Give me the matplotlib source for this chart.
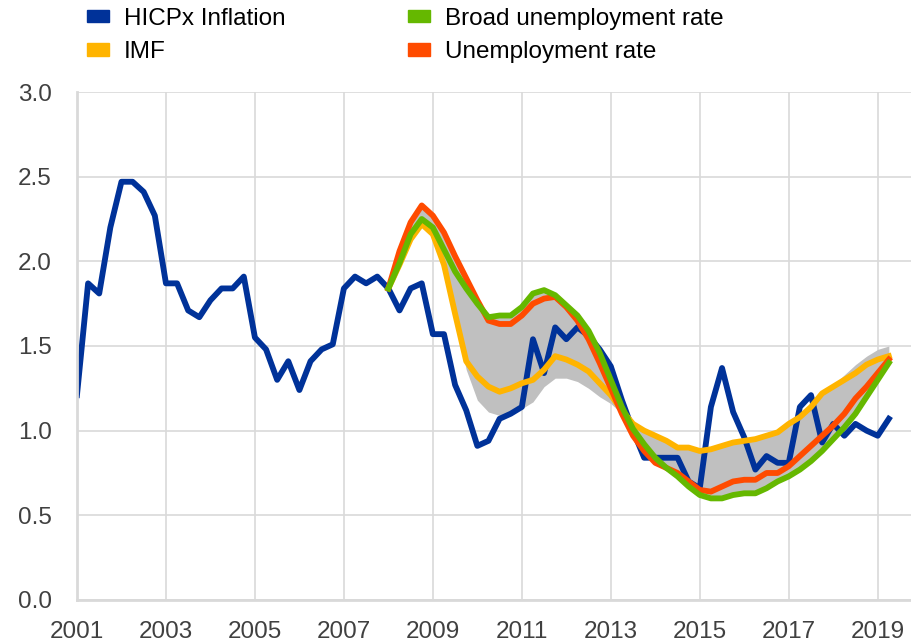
import numpy as np
import matplotlib
matplotlib.use("Agg")
import matplotlib.pyplot as plt
from matplotlib.patches import Patch

plt.rcParams['font.family'] = ['Liberation Sans', 'DejaVu Sans']

# quarterly, HICPx from 2001Q1, model estimates from 2008Q1
hicpx = [1.21, 1.87, 1.81, 2.20,
         2.47, 2.47, 2.41, 2.27,
         1.87, 1.87, 1.71, 1.67,
         1.77, 1.84, 1.84, 1.91,
         1.55, 1.48, 1.30, 1.41,
         1.24, 1.41, 1.48, 1.51,
         1.84, 1.91, 1.87, 1.91,
         1.84, 1.71, 1.84, 1.87,
         1.57, 1.57, 1.27, 1.12,
         0.91, 0.94, 1.07, 1.10,
         1.14, 1.54, 1.34, 1.61,
         1.54, 1.61, 1.56, 1.48,
         1.38, 1.18, 1.00, 0.84,
         0.84, 0.84, 0.84, 0.70,
         0.66, 1.14, 1.37, 1.11,
         0.96, 0.77, 0.85, 0.81,
         0.81, 1.14, 1.21, 0.93,
         1.04, 0.97, 1.04, 1.00,
         0.97, 1.07]

imf = [1.84, 1.98, 2.13, 2.22,
       2.16, 1.98, 1.69, 1.41,
       1.32, 1.26, 1.23, 1.25,
       1.28, 1.30, 1.36, 1.44,
       1.42, 1.39, 1.35, 1.28,
       1.21, 1.12, 1.04, 1.00,
       0.97, 0.94, 0.90, 0.90,
       0.88, 0.89, 0.91, 0.93,
       0.94, 0.95, 0.97, 0.99,
       1.04, 1.08, 1.14, 1.22,
       1.26, 1.30, 1.34, 1.39,
       1.42, 1.44]

unemp = [1.84, 2.06, 2.23, 2.33,
         2.27, 2.17, 2.03, 1.90,
         1.77, 1.65, 1.63, 1.63,
         1.68, 1.75, 1.78, 1.79,
         1.73, 1.65, 1.54, 1.40,
         1.25, 1.10, 0.97, 0.88,
         0.81, 0.78, 0.75, 0.70,
         0.65, 0.64, 0.67, 0.70,
         0.71, 0.71, 0.75, 0.75,
         0.79, 0.85, 0.91, 0.97,
         1.03, 1.10, 1.19, 1.26,
         1.34, 1.42]

broad = [1.84, 1.99, 2.16, 2.25,
         2.20, 2.07, 1.94, 1.84,
         1.75, 1.67, 1.68, 1.68,
         1.73, 1.81, 1.83, 1.80,
         1.74, 1.68, 1.59, 1.46,
         1.30, 1.14, 1.01, 0.92,
         0.84, 0.78, 0.73, 0.67,
         0.62, 0.60, 0.60, 0.62,
         0.63, 0.63, 0.66, 0.70,
         0.73, 0.77, 0.82, 0.88,
         0.95, 1.02, 1.10, 1.20,
         1.30, 1.40]

# range of estimates (grey area)
band_hi = [1.84, 2.07, 2.24, 2.34,
           2.28, 2.17, 2.03, 1.90,
           1.77, 1.67, 1.68, 1.68,
           1.73, 1.81, 1.83, 1.80,
           1.74, 1.68, 1.59, 1.46,
           1.30, 1.14, 1.04, 1.00,
           0.97, 0.94, 0.90, 0.90,
           0.88, 0.89, 0.91, 0.93,
           0.94, 0.95, 0.97, 0.99,
           1.04, 1.08, 1.14, 1.22,
           1.27, 1.33, 1.39, 1.44,
           1.48, 1.50]
band_lo = [1.84, 1.98, 2.13, 2.22,
           2.16, 1.98, 1.66, 1.36,
           1.18, 1.11, 1.09, 1.10,
           1.13, 1.17, 1.26, 1.31,
           1.31, 1.29, 1.25, 1.20,
           1.16, 1.10, 0.97, 0.88,
           0.81, 0.78, 0.73, 0.67,
           0.62, 0.60, 0.60, 0.62,
           0.63, 0.63, 0.66, 0.70,
           0.73, 0.77, 0.82, 0.88,
           0.95, 1.02, 1.10, 1.20,
           1.30, 1.40]

year_ticks = [2001, 2003, 2005, 2007, 2009, 2011, 2013, 2015, 2017, 2019]

t_all = 2001 + np.arange(len(hicpx)) * 0.25
t_mod = 2008 + np.arange(len(imf)) * 0.25

c_blue = "#003299"
c_yellow = "#FFB400"
c_green = "#65B800"
c_orange = "#FF4B00"
c_grid = "#D9D9D9"
c_text = "#404040"
fs = 17.5
lw = 4.2

fig = plt.figure(figsize=(9.12, 6.43), dpi=100)
ax = fig.add_axes([0.0844, 0.0669, 0.9146, 0.79])

ax.fill_between(t_mod, band_lo, band_hi, color="#C0C0C0", lw=0, zorder=1)
ax.plot(t_all, hicpx, color=c_blue, lw=lw, zorder=2)
ax.plot(t_mod, imf, color=c_yellow, lw=lw, zorder=3)
ax.plot(t_mod, unemp, color=c_orange, lw=lw, zorder=4)
ax.plot(t_mod, broad, color=c_green, lw=lw, zorder=5)

ax.set_xlim(2001, 2019.75)
ax.set_ylim(0, 3.0)
ax.set_xticks(year_ticks)
ax.set_xticklabels([str(y) for y in year_ticks])
ax.set_yticks(np.arange(0, 3.01, 0.5))
ax.set_yticklabels(["%.1f" % v for v in np.arange(0, 3.01, 0.5)])
ax.grid(True, color=c_grid, lw=1.2, zorder=0)
ax.set_axisbelow(True)
ax.tick_params(length=0, labelsize=fs, colors=c_text)
ax.tick_params(axis="x", pad=15)
ax.tick_params(axis="y", pad=18)
for s in ["top", "right"]:
    ax.spines[s].set_visible(False)
for s in ["left", "bottom"]:
    ax.spines[s].set_color(c_grid)
    ax.spines[s].set_linewidth(2)

leg_kw = dict(frameon=False, fontsize=fs, loc="upper left",
              borderpad=0, borderaxespad=0,
              handlelength=0.9, handleheight=0.4, handletextpad=0.62,
              labelspacing=0.46, labelcolor="black")
leg1 = fig.legend(handles=[Patch(color=c_blue, label="HICPx Inflation"),
                           Patch(color=c_yellow, label="IMF")],
                  bbox_to_anchor=(87 / 912, 1 - 8 / 643), **leg_kw)
leg2 = fig.legend(handles=[Patch(color=c_green, label="Broad unemployment rate"),
                           Patch(color=c_orange, label="Unemployment rate")],
                  bbox_to_anchor=(408 / 912, 1 - 8 / 643), **leg_kw)

fig.savefig("out.png", dpi=100)
